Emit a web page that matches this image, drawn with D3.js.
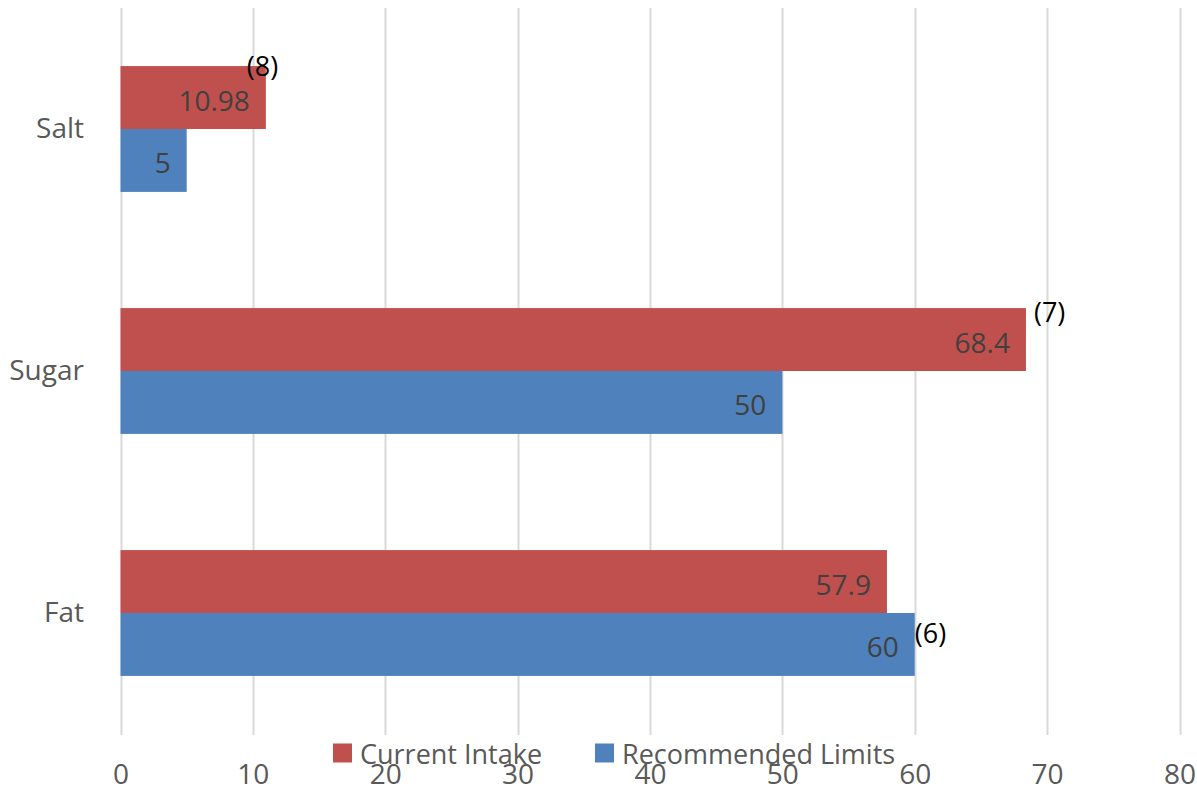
<!DOCTYPE html>
<html>
<head>
<meta charset="utf-8">
<script src="https://cdn.jsdelivr.net/npm/d3@7"></script>
<style>
  html, body { margin: 0; padding: 0; background: #fff; }
  svg { display: block; font-family: "Open Sans", "Noto Sans", sans-serif; }
</style>
</head>
<body>
<svg id="chart" width="1197" height="790"></svg>
<script>
// Daily intake vs recommended limits (grams)
const categories = ["Salt", "Sugar", "Fat"];
const seriesNames = ["Current Intake", "Recommended Limits"];
const currentIntake = [10.98, 68.4, 57.9];
const recommendedLimits = [5, 50, 60];
const xTicks = [0, 10, 20, 30, 40, 50, 60, 70, 80];
const seriesColors = ["#C0504D", "#4F81BD"];

// Reference markers attached to bars: [category, series, text]
const notes = [
  ["Salt", "Current Intake", "(8)"],
  ["Sugar", "Current Intake", "(7)"],
  ["Fat", "Recommended Limits", "(6)"]
];
// horizontal / vertical nudges for each marker (px), same order as notes
const noteOffsets = [[-19, -1], [8, 3], [0, 19]];

const seriesValues = [currentIntake, recommendedLimits];
const rows = [];
categories.forEach((c, i) => {
  seriesNames.forEach((s, j) => rows.push({ category: c, series: s, value: seriesValues[j][i], color: seriesColors[j] }));
});

const svg = d3.select("#chart");

const x = d3.scaleLinear().domain([0, 80]).range([120.5, 1179.5]);
const y = d3.scaleBand().domain(categories).range([8, 734]).paddingInner(0.48).paddingOuter(0.24);
const ySub = d3.scaleBand().domain(seriesNames).range([0, y.bandwidth()]);

// vertical gridlines
svg.append("g")
  .selectAll("line")
  .data(xTicks)
  .join("line")
  .attr("x1", d => Math.round(x(d)) + 0.5)
  .attr("x2", d => Math.round(x(d)) + 0.5)
  .attr("y1", 8)
  .attr("y2", 735)
  .attr("stroke", "#d9d9d9")
  .attr("stroke-width", 2);

// bars
svg.append("g")
  .selectAll("rect")
  .data(rows)
  .join("rect")
  .attr("x", x(0))
  .attr("y", d => y(d.category) + ySub(d.series))
  .attr("width", d => x(d.value) - x(0))
  .attr("height", ySub.bandwidth())
  .attr("fill", d => d.color);

// value labels, inside the bar end
svg.append("g")
  .selectAll("text")
  .data(rows)
  .join("text")
  .attr("x", d => x(d.value) - 16)
  .attr("y", d => y(d.category) + ySub(d.series) + ySub.bandwidth() / 2 + 2)
  .attr("text-anchor", "end")
  .attr("dominant-baseline", "central")
  .attr("fill", "#404040")
  .attr("font-size", 28)
  .text(d => d.value);

// x axis tick labels
const xAxis = d3.axisBottom(x).tickValues(xTicks).tickSize(0).tickPadding(0).tickFormat(d3.format("d"));
const gx = svg.append("g").attr("transform", "translate(0,764)").call(xAxis);
gx.select(".domain").remove();
gx.selectAll("text").attr("font-size", 28).attr("fill", "#595959").attr("font-family", "Open Sans, sans-serif");

// category labels
const yAxis = d3.axisLeft(y).tickSize(0).tickPadding(0);
const gy = svg.append("g").attr("transform", "translate(84,0)").call(yAxis);
gy.select(".domain").remove();
gy.selectAll("text").attr("font-size", 28).attr("fill", "#595959").attr("font-family", "Open Sans, sans-serif");

// reference markers
svg.append("g")
  .selectAll("text")
  .data(notes)
  .join("text")
  .attr("x", (d, i) => {
    const v = seriesValues[seriesNames.indexOf(d[1])][categories.indexOf(d[0])];
    return x(v) + noteOffsets[i][0];
  })
  .attr("y", (d, i) => y(d[0]) + ySub(d[1]) + noteOffsets[i][1])
  .attr("dominant-baseline", "central")
  .attr("fill", "#000")
  .attr("font-size", 27)
  .text(d => d[2]);

// legend
const legend = svg.append("g").attr("transform", "translate(333,753)");
const legendX = [0, 262];
seriesNames.forEach((s, i) => {
  const g = legend.append("g").attr("transform", `translate(${legendX[i]},0)`);
  g.append("rect").attr("x", 0).attr("y", -9.5).attr("width", 19).attr("height", 19).attr("fill", seriesColors[i]);
  g.append("text").attr("x", 27).attr("y", 0).attr("dominant-baseline", "central")
    .attr("font-size", 27).attr("fill", "#595959").text(s);
});
</script>
</body>
</html>
